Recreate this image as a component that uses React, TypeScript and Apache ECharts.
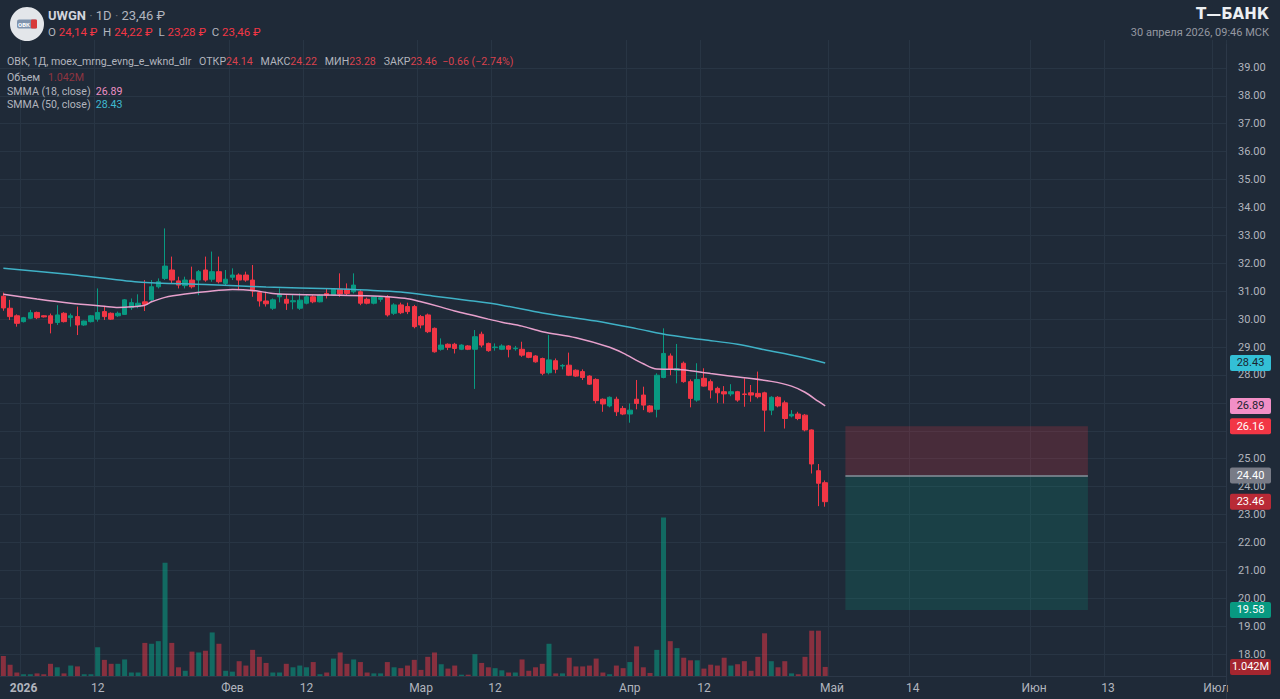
import React, { useEffect, useRef } from "react";
import * as echarts from "echarts";

// ---------- data ----------
const firstDate = "2025-12-29";
const lastAxisDate = "2026-07-02";
const futureGaps = ["2026-05-09", "2026-06-12", "2026-06-20", "2026-06-27"];

const openP = [30.82,30.39,30.12,29.91,30.03,30.24,30.12,30.12,29.88,30.21,
30.05,30.09,29.79,29.91,30.00,30.27,30.21,30.12,30.17,30.41,
30.45,30.62,30.69,31.16,31.46,31.76,31.37,31.20,31.40,31.40,
31.76,31.43,31.70,31.28,31.50,31.58,31.58,31.40,30.95,30.65,
30.39,30.80,30.71,30.62,30.39,30.57,30.80,30.62,30.92,30.86,
31.07,31.07,30.98,30.98,30.71,30.57,30.71,30.80,30.21,30.51,
30.45,30.45,30.09,30.15,29.67,28.92,29.10,29.10,28.92,29.04,
28.92,29.46,29.13,28.98,28.92,29.04,28.94,28.92,28.80,28.68,
28.59,28.08,28.51,28.32,28.35,28.17,28.12,27.96,27.84,27.13,
26.89,27.13,26.80,26.60,27.13,27.28,26.89,26.77,27.91,28.68,
28.17,28.42,27.76,27.10,27.88,27.76,27.52,27.40,27.32,27.40,
27.32,27.36,27.34,27.36,26.74,27.20,27.00,26.53,26.60,26.56,
26.03,24.57,24.14];

const highP = [30.95,30.69,30.17,30.08,30.33,30.27,30.14,30.20,30.50,30.25,
30.20,30.45,29.95,30.15,31.10,30.45,30.24,30.27,30.72,30.74,
30.89,31.40,31.40,31.46,33.25,32.24,31.52,31.52,31.88,31.76,
32.24,32.42,32.24,31.76,31.82,31.64,31.70,31.94,30.98,30.98,
30.74,31.10,30.86,30.86,30.92,30.86,30.86,30.89,31.10,31.10,
31.64,31.28,31.64,31.07,30.77,30.83,30.83,30.86,30.57,30.59,
30.59,30.51,30.15,30.20,29.70,29.31,29.13,29.15,29.10,29.07,
29.61,29.55,29.16,29.13,29.10,29.07,29.04,29.19,28.83,28.71,
28.62,29.43,28.59,28.39,28.80,28.20,28.20,27.99,27.88,27.16,
27.23,27.22,26.89,26.98,27.82,27.58,26.92,28.06,29.67,28.77,
29.11,28.48,27.84,28.42,28.24,27.84,27.58,27.60,27.67,27.43,
27.88,27.64,28.12,27.40,27.24,27.24,27.08,26.74,26.68,26.60,
26.05,24.81,24.22];

const lowP = [30.30,29.97,29.73,29.88,30.00,30.00,30.06,29.49,29.79,29.88,
29.73,29.43,29.76,29.88,29.91,29.97,29.97,30.08,30.15,30.33,
30.39,30.29,30.62,31.10,31.40,31.28,31.10,31.10,31.10,30.86,
31.34,31.34,31.28,31.22,31.40,31.04,31.34,30.80,30.45,30.45,
30.33,30.60,30.33,30.35,30.33,30.53,30.57,30.60,30.74,30.83,
30.80,30.86,30.92,30.50,30.53,30.53,30.62,30.09,30.15,30.18,
30.18,29.67,29.67,29.50,28.80,28.87,28.89,28.77,28.89,28.89,
27.50,28.99,28.83,28.87,28.89,28.63,28.87,28.65,28.60,28.44,
27.99,28.02,28.06,28.20,27.96,27.93,27.82,27.64,26.98,26.68,
26.84,26.53,26.56,26.29,26.77,26.74,26.65,26.48,27.88,27.99,
27.70,27.72,26.84,27.04,27.58,27.16,27.00,26.98,27.24,27.04,
26.86,27.04,27.16,25.97,26.56,26.84,26.08,26.48,26.38,25.98,
24.47,23.30,23.28];

const closeP = [30.40,30.09,29.85,30.05,30.23,30.05,30.08,29.85,30.15,29.91,
30.12,29.79,29.93,30.12,30.24,30.09,30.00,30.21,30.69,30.59,
30.57,30.53,31.16,31.34,31.90,31.40,31.22,31.40,31.16,31.70,
31.40,31.70,31.34,31.43,31.58,31.40,31.40,31.01,30.65,30.55,
30.69,30.90,30.57,30.66,30.68,30.80,30.62,30.86,30.86,31.07,
30.90,30.92,31.22,30.57,30.57,30.80,30.77,30.15,30.51,30.23,
30.27,29.73,29.79,29.55,28.83,29.07,28.99,28.95,29.07,28.92,
29.37,29.07,28.87,29.00,29.04,28.92,28.96,28.71,28.63,28.47,
28.06,28.54,28.20,28.34,27.99,27.96,27.91,27.67,27.08,26.96,
27.20,26.68,26.60,26.74,26.98,26.92,26.68,27.99,28.77,28.20,
28.22,27.76,27.16,27.84,27.60,27.46,27.36,27.32,27.40,27.10,
27.30,27.28,27.22,26.74,27.20,26.89,26.44,26.59,26.44,26.03,
24.81,24.12,23.46];

// volume, millions
const volumeM = [2.3,1.3,0.4,0.2,0.2,0.3,0.2,1.4,1.0,0.3,
1.2,1.1,0.2,0.2,3.3,1.85,1.4,1.4,1.9,0.4,
0.4,3.8,3.7,4.0,13.0,3.8,1.0,0.6,2.8,2.7,
2.9,5.0,3.7,0.6,0.5,1.7,1.2,3.0,2.2,1.5,
0.4,0.4,1.4,1.0,1.2,1.0,1.6,0.2,0.4,2.0,
2.7,1.4,1.9,1.6,0.4,0.3,0.3,1.6,1.0,0.9,
1.2,1.85,0.7,2.2,2.7,1.35,0.85,1.2,0.15,0.15,
2.5,1.5,1.0,0.9,0.65,0.4,0.4,1.9,0.6,1.0,
1.4,3.7,0.3,0.3,2.1,1.1,1.1,1.2,2.0,0.4,
0.2,1.2,0.9,1.6,3.4,1.0,0.35,3.0,18.2,4.0,
3.2,2.1,1.8,1.8,0.85,1.3,1.2,2.1,1.2,1.35,
1.7,0.6,2.2,4.9,1.7,1.0,1.7,0.3,0.2,2.2,
5.2,5.2,1.042];

const smma18Points: [string, number][] = [
  ["2025-12-29", 30.89], ["2026-01-03", 30.72], ["2026-01-08", 30.57], ["2026-01-13", 30.46],
  ["2026-01-15", 30.42], ["2026-01-17", 30.44], ["2026-01-19", 30.5], ["2026-01-20", 30.62],
  ["2026-01-22", 30.78], ["2026-01-25", 30.9], ["2026-01-28", 30.98], ["2026-02-01", 31.06],
  ["2026-02-04", 31.03], ["2026-02-07", 30.92], ["2026-02-12", 30.87], ["2026-02-17", 30.86],
  ["2026-02-22", 30.83], ["2026-02-24", 30.8], ["2026-02-27", 30.73], ["2026-03-01", 30.62],
  ["2026-03-04", 30.43], ["2026-03-06", 30.29], ["2026-03-09", 30.12], ["2026-03-11", 30.0],
  ["2026-03-13", 29.89], ["2026-03-16", 29.75], ["2026-03-19", 29.55], ["2026-03-24", 29.33],
  ["2026-03-29", 28.99], ["2026-03-31", 28.78], ["2026-04-03", 28.4], ["2026-04-05", 28.21],
  ["2026-04-08", 28.2], ["2026-04-10", 28.15], ["2026-04-13", 28.05], ["2026-04-18", 27.9],
  ["2026-04-22", 27.77], ["2026-04-25", 27.6], ["2026-04-27", 27.38], ["2026-04-29", 27.05],
  ["2026-04-30", 26.89],
];

const smma50Points: [string, number][] = [
  ["2025-12-29", 31.82], ["2026-01-08", 31.6], ["2026-01-18", 31.33], ["2026-01-28", 31.24],
  ["2026-02-06", 31.15], ["2026-02-16", 31.09], ["2026-02-21", 31.04], ["2026-02-26", 30.97],
  ["2026-03-03", 30.82], ["2026-03-08", 30.67], ["2026-03-13", 30.5], ["2026-03-19", 30.22],
  ["2026-03-27", 29.93], ["2026-04-02", 29.66], ["2026-04-07", 29.42], ["2026-04-12", 29.26],
  ["2026-04-17", 29.1], ["2026-04-21", 28.9], ["2026-04-26", 28.66], ["2026-04-30", 28.43],
];

const timeLabels: [string, string][] = [
  ["2026-01-01", "2026"], ["2026-01-12", "12"], ["2026-02-01", "Фев"], ["2026-02-12", "12"],
  ["2026-03-01", "Мар"], ["2026-03-12", "12"], ["2026-04-01", "Апр"], ["2026-04-12", "12"],
  ["2026-05-01", "Май"], ["2026-05-14", "14"], ["2026-06-01", "Июн"], ["2026-06-13", "13"],
  ["2026-07-01", "Июл"],
];

// price-scale labels hidden behind the value tags
const hiddenPriceLabels = [26, 27];

const tradeStart = "2026-05-03";
const tradeEnd = "2026-06-09";
const stopPrice = 26.16;
const entryPrice = 24.4;
const targetPrice = 19.58;

const lastSmma18 = 26.89;
const lastSmma50 = 28.43;
const lastClose = 23.46;
const lastVolume = 1.042;

// ---------- helpers ----------
function buildDates(): string[] {
  const out: string[] = [];
  const d = new Date(firstDate + "T00:00:00Z");
  const end = new Date(lastAxisDate + "T00:00:00Z");
  while (d.getTime() <= end.getTime()) {
    const s = d.toISOString().slice(0, 10);
    if (!futureGaps.includes(s)) out.push(s);
    d.setUTCDate(d.getUTCDate() + 1);
  }
  return out;
}

const UP = "#089981";
const DOWN = "#f23645";
const BG = "#1f2a38";
const GRIDC = "#283544";
const TXT = "#b2b5be";
const FONT = "Roboto, 'Noto Sans', sans-serif";

export default function App() {
  const ref = useRef<HTMLDivElement>(null);

  useEffect(() => {
    const chart = echarts.init(ref.current!, null, { renderer: "svg" });
    const dates = buildDates();
    const labelMap = new Map(timeLabels);

    const candleData = openP.map((o, i) => [o, closeP[i], lowP[i], highP[i]]);
    const volData = volumeM.map((v, i) => ({
      value: v,
      itemStyle: { color: closeP[i] >= openP[i] ? "rgba(8,153,129,0.58)" : "rgba(242,54,69,0.5)" },
    }));

    const gridLeft = -2;
    const gridRight = 54;

    const option: any = {
      animation: false,
      backgroundColor: BG,
      grid: [
        { left: gridLeft, right: gridRight, top: 40, height: 642 },
        { left: gridLeft, right: gridRight, top: 40, bottom: 23 },
      ],
      xAxis: [
        {
          type: "category", gridIndex: 0, data: dates,
          axisLine: { show: false }, axisTick: { show: false }, axisLabel: { show: false },
          splitLine: { show: false },
        },
        {
          type: "category", gridIndex: 1, data: dates,
          axisLine: { show: true, lineStyle: { color: "#2c3848" } },
          axisTick: { show: false },
          axisLabel: {
            interval: (_i: number, v: string) => labelMap.has(v),
            formatter: (v: string) => {
              const t = labelMap.get(v) || "";
              return t === "2026" ? "{y|" + t + "}" : t;
            },
            color: TXT, fontSize: 12, fontFamily: FONT, margin: 6,
            rich: { y: { fontWeight: "bold", color: TXT, fontSize: 12, fontFamily: FONT } },
          },
          splitLine: {
            show: true,
            interval: (_i: number, v: string) => labelMap.has(v),
            lineStyle: { color: GRIDC, width: 1 },
          },
        },
      ],
      yAxis: [
        {
          type: "value", gridIndex: 0, position: "right", min: 17, max: 40, interval: 1,
          axisLine: { show: false }, axisTick: { show: false },
          axisLabel: {
            color: TXT, fontSize: 11, fontFamily: FONT, margin: 12,
            showMinLabel: false, showMaxLabel: false,
            formatter: (v: number) => (hiddenPriceLabels.includes(v) ? "" : v.toFixed(2)),
          },
          splitLine: { show: true, showMinLine: false, showMaxLine: false, lineStyle: { color: GRIDC } },
        },
        {
          type: "value", gridIndex: 1, min: 0, max: 73, show: false,
          splitLine: { show: false },
        },
      ],
      series: [
        {
          type: "bar", xAxisIndex: 1, yAxisIndex: 1, data: volData, barWidth: 5,
          silent: true,
        },
        {
          type: "candlestick", xAxisIndex: 0, yAxisIndex: 0, data: candleData, barWidth: 5,
          itemStyle: { color: UP, color0: DOWN, borderColor: UP, borderColor0: DOWN, borderWidth: 1 },
          markArea: {
            silent: true,
            data: [
              [
                { xAxis: tradeStart, yAxis: stopPrice, itemStyle: { color: "rgba(242,54,69,0.2)" } },
                { xAxis: tradeEnd, yAxis: entryPrice },
              ],
              [
                { xAxis: tradeStart, yAxis: entryPrice, itemStyle: { color: "rgba(8,153,129,0.2)" } },
                { xAxis: tradeEnd, yAxis: targetPrice },
              ],
            ],
          },
          markLine: {
            silent: true, symbol: "none", label: { show: false },
            lineStyle: { color: "#8a8f9a", width: 1.5, type: "solid" },
            data: [[{ coord: [tradeStart, entryPrice] }, { coord: [tradeEnd, entryPrice] }]],
          },
        },
        {
          type: "line", xAxisIndex: 0, yAxisIndex: 0, data: smma50Points, smooth: 0.3,
          showSymbol: false, lineStyle: { color: "#3fb1c6", width: 1.5 }, silent: true,
        },
        {
          type: "line", xAxisIndex: 0, yAxisIndex: 0, data: smma18Points, smooth: 0.3,
          showSymbol: false, lineStyle: { color: "#e7a0cc", width: 1.5 }, silent: true,
        },
      ],
    };
    chart.setOption(option);

    const tags = [
      { axis: 0, value: lastSmma50, text: lastSmma50.toFixed(2), bg: "#33bfd6", fg: "#1a2430" },
      { axis: 0, value: lastSmma18, text: lastSmma18.toFixed(2), bg: "#f28fc6", fg: "#1a2430" },
      { axis: 0, value: stopPrice, text: stopPrice.toFixed(2), bg: "#f23645", fg: "#ffffff" },
      { axis: 0, value: entryPrice, text: entryPrice.toFixed(2), bg: "#787b86", fg: "#ffffff" },
      { axis: 0, value: lastClose, text: lastClose.toFixed(2), bg: "#b92a36", fg: "#ffffff" },
      { axis: 0, value: targetPrice, text: targetPrice.toFixed(2), bg: "#089981", fg: "#ffffff" },
      { axis: 1, value: lastVolume, text: lastVolume.toFixed(3) + "M", bg: "#a5262f", fg: "#ffffff" },
    ];

    const tagEls: any[] = [];
    tags.forEach((t) => {
      const y = chart.convertToPixel({ yAxisIndex: t.axis } as any, t.value) as number;
      tagEls.push({
        type: "rect", z: 100,
        shape: { x: 1230, y: y - 8, width: 41, height: 16, r: 2 },
        style: { fill: t.bg },
      });
      tagEls.push({
        type: "text", z: 101, x: 1250.5, y,
        style: { text: t.text, fill: t.fg, font: "11px " + FONT, textAlign: "center", textVerticalAlign: "middle" },
      });
    });

    const red = "#f23645";
    const graphics: any[] = [
      { type: "line", z: 50, shape: { x1: 1226.5, y1: 44, x2: 1226.5, y2: 699 }, style: { stroke: "#2c3848", lineWidth: 1 } },
      // logo
      { type: "circle", z: 60, shape: { cx: 27, cy: 24, r: 17 }, style: { fill: "#e3e6ea" } },
      { type: "rect", z: 61, shape: { x: 17, y: 19.5, width: 20, height: 9, r: 2 }, style: { fill: "#7f93ad" } },
      { type: "rect", z: 61, shape: { x: 31, y: 19.5, width: 6, height: 9, r: 1 }, style: { fill: "#d83a3a" } },
      { type: "text", z: 62, x: 24, y: 24, style: { text: "ОВК", fill: "#ffffff", font: "bold 6px " + FONT, textAlign: "center", textVerticalAlign: "middle" } },
      // header
      {
        type: "text", z: 60, x: 48, y: 15,
        style: {
          text: "{s|UWGN}{d| · }{n|1D}{d| · }{n|23,46 ₽}",
          textVerticalAlign: "middle",
          rich: {
            s: { fill: "#d1d4dc", font: "bold 13px " + FONT },
            d: { fill: "#6a6f7a", font: "13px " + FONT },
            n: { fill: "#b2b5be", font: "13px " + FONT },
          },
        },
      },
      {
        type: "text", z: 60, x: 48, y: 32,
        style: {
          text: "{l|O }{v|24,14 ₽}{l|  H }{v|24,22 ₽}{l|  L }{v|23,28 ₽}{l|  C }{v|23,46 ₽}",
          textVerticalAlign: "middle",
          rich: {
            l: { fill: "#b2b5be", font: "11.5px " + FONT },
            v: { fill: red, font: "11.5px " + FONT },
          },
        },
      },
      {
        type: "text", z: 60, x: 1269, y: 14,
        style: { text: "Т—БАНК", fill: "#eceff2", font: "bold 15px 'DejaVu Sans', sans-serif", textAlign: "right", textVerticalAlign: "middle" },
      },
      {
        type: "text", z: 60, x: 1269, y: 32,
        style: { text: "30 апреля 2026, 09:46 МСК", fill: "#9598a1", font: "11px " + FONT, textAlign: "right", textVerticalAlign: "middle" },
      },
      // legend
      {
        type: "text", z: 60, x: 7, y: 61,
        style: {
          text: "{l|ОВК, 1Д, moex_mrng_evng_e_wknd_dlr   ОТКР}{v|24.14}{l|   МАКС}{v|24.22}{l|   МИН}{v|23.28}{l|   ЗАКР}{v|23.46}{v|  −0.66 (−2.74%)}",
          textVerticalAlign: "middle",
          rich: {
            l: { fill: "#b2b5be", font: "10.6px " + FONT },
            v: { fill: "#d9414d", font: "10.6px " + FONT },
          },
        },
      },
      {
        type: "text", z: 60, x: 7, y: 77,
        style: {
          text: "{l|Объем   }{v|1.042M}", textVerticalAlign: "middle",
          rich: { l: { fill: "#b2b5be", font: "10.6px " + FONT }, v: { fill: "#8e3440", font: "10.6px " + FONT } },
        },
      },
      {
        type: "text", z: 60, x: 7, y: 91,
        style: {
          text: "{l|SMMA (18, close)  }{v|26.89}", textVerticalAlign: "middle",
          rich: { l: { fill: "#b2b5be", font: "10.6px " + FONT }, v: { fill: "#ec8fc4", font: "10.6px " + FONT } },
        },
      },
      {
        type: "text", z: 60, x: 7, y: 104,
        style: {
          text: "{l|SMMA (50, close)  }{v|28.43}", textVerticalAlign: "middle",
          rich: { l: { fill: "#b2b5be", font: "10.6px " + FONT }, v: { fill: "#3fb9d0", font: "10.6px " + FONT } },
        },
      },
      ...tagEls,
    ];
    chart.setOption({ graphic: graphics });

    return () => chart.dispose();
  }, []);

  return <div ref={ref} style={{ position: "fixed", left: 0, top: 0, width: 1280, height: 699 }} />;
}
